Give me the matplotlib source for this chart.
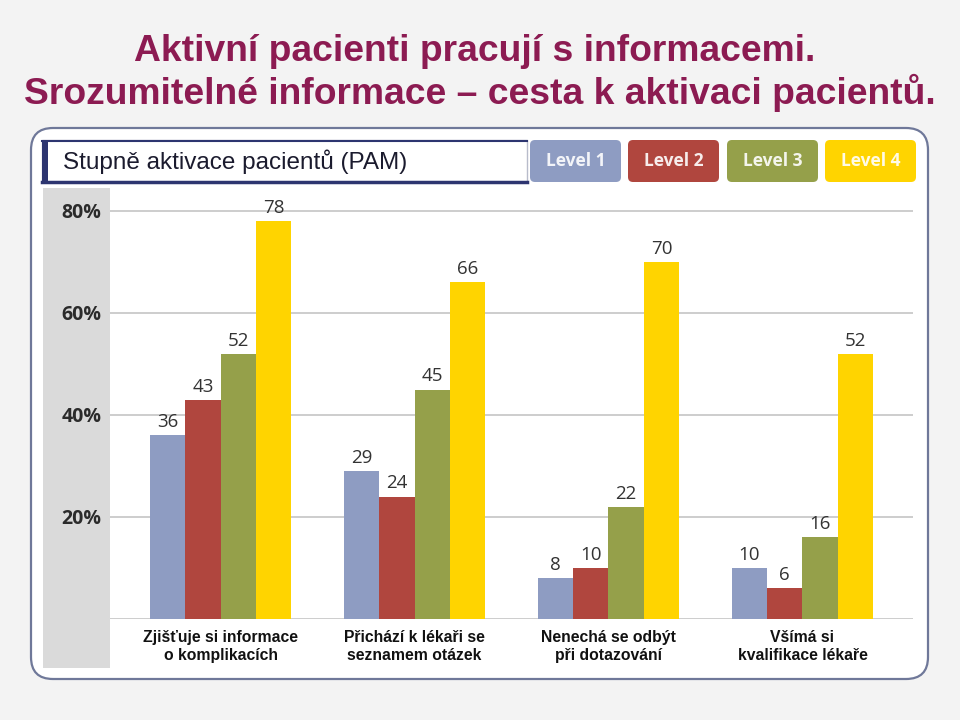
import numpy as np
import matplotlib
matplotlib.use('Agg')
import matplotlib.pyplot as plt
from matplotlib.patches import FancyBboxPatch, Rectangle

# data
categories = ['Zjišťuje si informace\no komplikacích',
              'Přichází k lékaři se\nseznamem otázek',
              'Nenechá se odbýt\npři dotazování',
              'Všímá si\nkvalifikace lékaře']
levels = ['Level 1', 'Level 2', 'Level 3', 'Level 4']
level_1 = [36, 29, 8, 10]
level_2 = [43, 24, 10, 6]
level_3 = [52, 45, 22, 16]
level_4 = [78, 66, 70, 52]
y_ticks = [20, 40, 60, 80]
y_tick_labels = ['20%', '40%', '60%', '80%']

colors = ['#8E9CC2', '#B0463E', '#95A04A', '#FFD400']
title_color = '#8C1B52'

fig = plt.figure(figsize=(9.6, 7.2), dpi=100, facecolor='#F3F3F3')

# background layer in pixel coords
bg = fig.add_axes([0, 0, 1, 1])
bg.set_xlim(0, 960)
bg.set_ylim(720, 0)
bg.axis('off')

# outer rounded frame
bg.add_patch(FancyBboxPatch((31, 128), 897, 551, boxstyle='round,pad=0,rounding_size=22',
                            facecolor='white', edgecolor='#6F7899', lw=1.6))
# gray band behind y labels
bg.add_patch(Rectangle((43, 188), 67, 480, facecolor='#DADADA', edgecolor='none'))

# subtitle box
bg.add_patch(Rectangle((42, 140), 485, 42, facecolor='white', edgecolor='#B8BCCB', lw=1))
bg.plot([42, 527], [140.5, 140.5], color='#2D3570', lw=1.5)
bg.plot([42, 527], [181.5, 181.5], color='#2D3570', lw=2.5)
bg.add_patch(Rectangle((42, 140), 6, 42, facecolor='#2D3570', edgecolor='none'))
bg.text(63, 162, 'Stupně aktivace pacientů (PAM)', fontsize=17.5, color='#1B1B2E',
        family='Liberation Sans', va='center', ha='left')

# legend tabs
tab_x = [530, 628, 727, 825]
for name, c, x0 in zip(levels, colors, tab_x):
    bg.add_patch(FancyBboxPatch((x0, 140), 91, 42, boxstyle='round,pad=0,rounding_size=5',
                                facecolor=c, edgecolor='none'))
    bg.text(x0 + 45.5, 161, name, fontsize=12.5, fontweight='bold', color='#FFFFFF',
            family='Open Sans', ha='center', va='center', alpha=0.9)

# title
fig.text(0.494, 0.915, 'Aktivní pacienti pracují s informacemi.', ha='center', va='baseline',
         fontsize=26.8, fontweight='bold', color=title_color, family='Liberation Sans')
fig.text(0.5, 0.855, 'Srozumitelné informace – cesta k aktivaci pacientů.', ha='center',
         va='baseline', fontsize=26.8, fontweight='bold', color=title_color, family='Liberation Sans')

# main chart
ax = fig.add_axes([110 / 960, (720 - 619) / 720, 803 / 960, 428.4 / 720])
ax.patch.set_alpha(0)
ax.set_xlim(-0.57, 3.57)
ax.set_ylim(0, 84)

x = np.arange(len(categories))
w = 0.182
series = [level_1, level_2, level_3, level_4]
for i, (vals, c) in enumerate(zip(series, colors)):
    pos = x + (i - 1.5) * w
    bars = ax.bar(pos, vals, w, color=c, zorder=3)
    for b, v in zip(bars, vals):
        ax.annotate(str(v), (b.get_x() + b.get_width() / 2, v), xytext=(0, 3),
                    textcoords='offset points', ha='center', va='bottom',
                    fontsize=13.5, color='#333333', family='Open Sans', zorder=4)

ax.set_yticks(y_ticks)
ax.set_yticklabels(y_tick_labels, fontsize=14, fontweight='bold', color='#2B2B2B',
                   family='Open Sans')
ax.yaxis.grid(True, color='#C9C9C9', lw=1.3, zorder=0)
ax.axhline(0, color='#C9C9C9', lw=1.3, zorder=1)
ax.set_xticks(x)
ax.set_xticklabels(categories, fontsize=11.3, fontweight='bold', family='Liberation Sans',
                   color='#111111')
ax.tick_params(axis='y', length=0, pad=6)
ax.tick_params(axis='x', length=0, pad=8)
for s in ax.spines.values():
    s.set_visible(False)

plt.savefig('out.png', dpi=100, facecolor=fig.get_facecolor())
